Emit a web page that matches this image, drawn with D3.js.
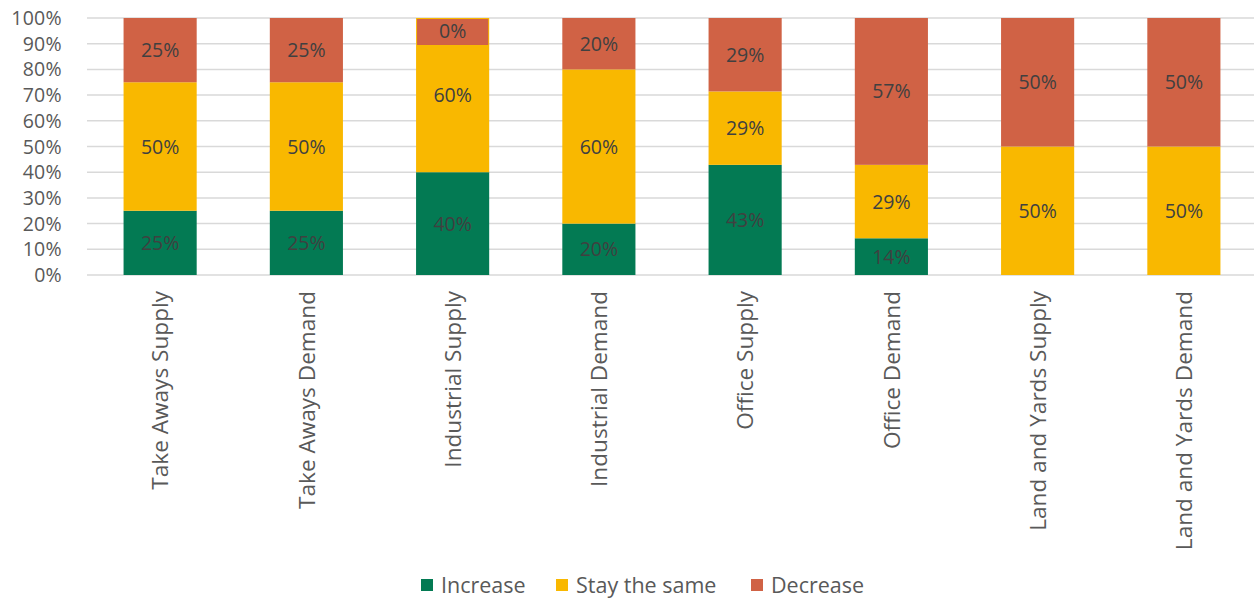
<!DOCTYPE html>
<html><head><meta charset="utf-8">
<script src="https://cdn.jsdelivr.net/npm/d3@7"></script>
<style>body{margin:0;background:#fff}svg{display:block}text{font-family:"Open Sans",sans-serif}</style>
</head><body><svg id="c" width="1258" height="602"></svg>
<script>
const categories = ["Take Aways Supply","Take Aways Demand","Industrial Supply","Industrial Demand","Office Supply","Office Demand","Land and Yards Supply","Land and Yards Demand"];
const increase = [25,25,40,20,42.86,14.29,0,0];
const stayTheSame = [50,50,60,60,28.57,28.57,50,50];
const decrease = [25,25,0,20,28.57,57.14,50,50];
const increaseLabels = ["25%","25%","40%","20%","43%","14%",null,null];
const stayLabels = ["50%","50%","60%","60%","29%","29%","50%","50%"];
const decreaseLabels = ["25%","25%","0%","20%","29%","57%","50%","50%"];
const seriesNames = ["Increase","Stay the same","Decrease"];
const yTicks = [0,10,20,30,40,50,60,70,80,90,100];
const colors = ["#037A53","#F9B800","#D06245"];

const svg = d3.select("#c");
const x = d3.scaleBand().domain(categories).range([87,1257]).paddingInner(0.5).paddingOuter(0.25);
const y = d3.scaleLinear().domain([0,100]).range([275,18]);

svg.append("g").selectAll("line").data(yTicks).join("line")
  .attr("x1",87).attr("x2",1254).attr("y1",d=>y(d)).attr("y2",d=>y(d))
  .attr("stroke","#d9d9d9").attr("stroke-width",1.5);

svg.append("g").selectAll("text").data(yTicks).join("text")
  .attr("x",62).attr("y",d=>y(d)).attr("dy","0.36em").attr("text-anchor","end")
  .attr("fill","#595959").style("font-size","19.5px").style("letter-spacing","0.3px").text(d=>d+"%");

const labels = [increaseLabels, stayLabels, decreaseLabels];
const rows = categories.map((c,i)=>({cat:c, Increase:increase[i], "Stay the same":stayTheSame[i], Decrease:decrease[i]}));
const stacked = d3.stack().keys(seriesNames)(rows);

stacked.forEach((layer,si)=>{
  svg.append("g").selectAll("rect").data(layer).join("rect")
    .attr("x",d=>x(d.data.cat)).attr("width",x.bandwidth())
    .attr("y",d=>y(d[1])).attr("height",d=>y(d[0])-y(d[1]))
    .attr("fill",colors[si]);
});

stacked.forEach((layer,si)=>{
  const g = svg.append("g");
  layer.forEach((d,i)=>{
    const lab = labels[si][i];
    if(!lab) return;
    const cx = x(d.data.cat)+x.bandwidth()/2;
    let cy = (y(d[0])+y(d[1]))/2;
    if(d[1]-d[0]===0){
      cy = y(d[1]) + 13;
      g.append("rect").attr("x",x(d.data.cat)+1).attr("width",x.bandwidth()-2)
        .attr("y",y(d[1])+1).attr("height",26).attr("fill",colors[si]);
    }
    g.append("text").attr("x",cx).attr("y",cy).attr("dy","0.36em").attr("text-anchor","middle")
      .attr("fill","#404040").style("font-size","19.5px").text(lab);
  });
});

svg.append("g").selectAll("text").data(categories).join("text")
  .attr("transform",d=>`translate(${x(d)+x.bandwidth()/2},291) rotate(-90)`)
  .attr("dy","0.36em").attr("text-anchor","end")
  .attr("fill","#595959").style("font-size","22.6px").text(d=>d);

const legX = [421,556,751];
const leg = svg.append("g");
seriesNames.forEach((n,i)=>{
  leg.append("rect").attr("x",legX[i]).attr("y",579).attr("width",12).attr("height",12).attr("fill",colors[i]);
  leg.append("text").attr("x",legX[i]+20).attr("y",585).attr("dy","0.36em")
    .attr("fill","#595959").style("font-size","21.5px").text(n);
});
</script></body></html>
